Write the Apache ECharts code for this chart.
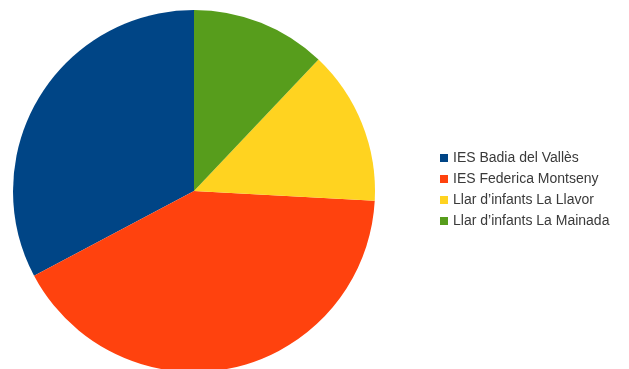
<!DOCTYPE html>
<html>
<head>
<meta charset="utf-8">
<script src="https://cdn.jsdelivr.net/npm/echarts@6/dist/echarts.min.js"></script>
<style>html,body{margin:0;padding:0;background:#fff}#c{width:629px;height:369px}</style>
</head>
<body>
<div id="c"></div>
<script>
const categories = ["IES Badia del Vallès", "IES Federica Montseny", "Llar d’infants La Llavor", "Llar d’infants La Mainada"];
const values = [38, 48, 16, 14];
const colors = ["#004586", "#ff420e", "#ffd320", "#579d1c"];

const chart = echarts.init(document.getElementById('c'), null, {renderer: 'canvas'});
chart.setOption({
  animation: false,
  color: colors,
  legend: {
    orient: 'vertical',
    left: 440,
    top: 151,
    padding: 0,
    icon: 'rect',
    itemWidth: 8,
    itemHeight: 8,
    itemGap: 7,
    textStyle: {fontFamily: 'Liberation Sans', fontSize: 14, lineHeight: 14, color: '#3a3a3a'},
    data: categories
  },
  series: [{
    type: 'pie',
    center: [194, 191],
    radius: 181,
    startAngle: 90,
    clockwise: false,
    label: {show: false},
    labelLine: {show: false},
    emphasis: {disabled: true},
    itemStyle: {borderWidth: 0},
    data: categories.map((n, i) => ({name: n, value: values[i]}))
  }]
});
</script>
</body>
</html>
